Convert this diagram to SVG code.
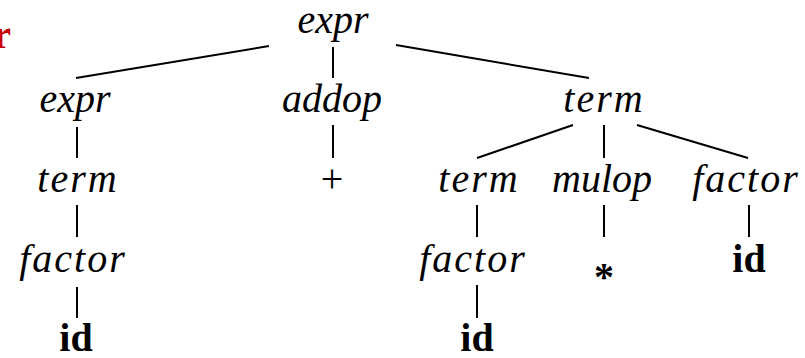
<svg xmlns="http://www.w3.org/2000/svg" width="805" height="358" viewBox="0 0 805 358">
  <style>
    .lbl { font-size: 40px; fill: #000; text-anchor: middle; }
    .nt { font-style: italic; }
    .wide { letter-spacing: 2px; }
    .tok { font-weight: bold; }
    .edge { stroke: #000; stroke-width: 2; fill: none; }
  </style>
  <rect width="805" height="358" fill="#fff"/>

  <g font-family="'Liberation Serif', 'Times New Roman', Times, 'DejaVu Serif', serif">
    <!-- partial red label at the left edge -->
    <text x="11" y="48" font-size="40" font-weight="bold" fill="#cc0000" text-anchor="end">r</text>

    <!-- parse tree edges -->
    <g id="connectors">
      <line class="edge" x1="269" y1="46" x2="76" y2="78"/>
      <line class="edge" x1="333" y1="47" x2="333" y2="78"/>
      <line class="edge" x1="396" y1="45" x2="589" y2="78"/>

      <line class="edge" x1="77" y1="127" x2="77" y2="158"/>
      <line class="edge" x1="77" y1="205" x2="77" y2="237"/>
      <line class="edge" x1="77" y1="287" x2="77" y2="318"/>

      <line class="edge" x1="333" y1="125" x2="333" y2="158"/>

      <line class="edge" x1="573" y1="125" x2="477" y2="158"/>
      <line class="edge" x1="604" y1="125" x2="604" y2="158"/>
      <line class="edge" x1="637" y1="125" x2="748" y2="158"/>

      <line class="edge" x1="477" y1="205" x2="477" y2="237"/>
      <line class="edge" x1="604" y1="205" x2="604" y2="237"/>
      <line class="edge" x1="749" y1="205" x2="749" y2="237"/>

      <line class="edge" x1="477" y1="285" x2="477" y2="318"/>
    </g>

    <!-- level 0 -->
    <g id="expr-root"><text class="lbl nt" x="333" y="33">expr</text></g>

    <!-- level 1 -->
    <g id="expr-left"><text class="lbl nt" x="75" y="112">expr</text></g>
    <g id="addop"><text class="lbl nt" x="332" y="112">addop</text></g>
    <g id="term-right"><text class="lbl nt wide" x="604" y="112">term</text></g>

    <!-- level 2 -->
    <g id="term-left"><text class="lbl nt wide" x="78" y="192">term</text></g>
    <g id="plus"><text class="lbl" x="332" y="192">+</text></g>
    <g id="term-inner"><text class="lbl nt wide" x="479" y="192">term</text></g>
    <g id="mulop"><text class="lbl nt" x="602" y="192">mulop</text></g>
    <g id="factor-right"><text class="lbl nt wide" x="746" y="192">factor</text></g>

    <!-- level 3 -->
    <g id="factor-left"><text class="lbl nt wide" x="73" y="272">factor</text></g>
    <g id="factor-inner"><text class="lbl nt wide" x="473" y="272">factor</text></g>
    <g id="star"><text class="lbl tok" x="604" y="290">*</text></g>
    <g id="id-right"><text class="lbl tok" x="749" y="272">id</text></g>

    <!-- level 4 -->
    <g id="id-left"><text class="lbl tok" x="76" y="351">id</text></g>
    <g id="id-inner"><text class="lbl tok" x="477" y="351">id</text></g>
  </g>
</svg>
